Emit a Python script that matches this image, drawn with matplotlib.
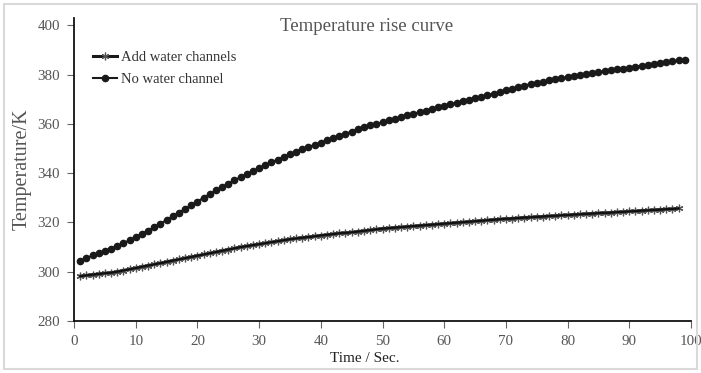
import matplotlib.pyplot as plt
from matplotlib.patches import Rectangle

plt.rcParams['font.family'] = ['Liberation Serif', 'DejaVu Serif']

# No water channel, t = 1..99 s
time_no_water = list(range(1, 100))
temp_no_water = [
    304.4, 305.5, 306.6, 307.6, 308.5, 309.4, 310.4, 311.5, 312.8, 314.1,
    315.4, 316.7, 318.1, 319.5, 321.0, 322.5, 324.0, 325.5, 327.0, 328.5,
    330.0, 331.5, 333.0, 334.4, 335.8, 337.1, 338.4, 339.6, 340.8, 342.0,
    343.2, 344.4, 345.5, 346.6, 347.7, 348.8, 349.7, 350.6, 351.5, 352.4,
    353.3, 354.2, 355.1, 356.0, 356.9, 357.8, 358.6, 359.4, 360.0, 360.7,
    361.4, 362.1, 362.8, 363.5, 364.1, 364.8, 365.4, 366.1, 366.7, 367.3,
    368.0, 368.6, 369.2, 369.9, 370.5, 371.1, 371.7, 372.3, 372.9, 373.6,
    374.3, 374.9, 375.6, 376.2, 376.7, 377.2, 377.7, 378.1, 378.5, 379.0,
    379.4, 379.8, 380.2, 380.6, 381.0, 381.4, 381.8, 382.2, 382.5, 382.9,
    383.3, 383.6, 384.0, 384.4, 384.7, 385.1, 385.4, 385.8, 386.1,
]

# Add water channels, t = 1..98 s
time_water = list(range(1, 99))
temp_water = [
    298.2, 298.5, 298.8, 299.1, 299.4, 299.6, 300.0, 300.5, 301.0, 301.5,
    302.0, 302.5, 303.0, 303.5, 304.0, 304.5, 305.0, 305.5, 306.0, 306.5,
    307.0, 307.5, 308.0, 308.5, 309.0, 309.5, 310.0, 310.4, 310.8, 311.2,
    311.6, 312.0, 312.4, 312.8, 313.2, 313.5, 313.8, 314.1, 314.4, 314.7,
    315.0, 315.3, 315.6, 315.8, 316.0, 316.3, 316.6, 316.9, 317.2, 317.5,
    317.7, 317.9, 318.1, 318.3, 318.5, 318.7, 318.9, 319.1, 319.3, 319.5,
    319.7, 319.9, 320.1, 320.3, 320.5, 320.7, 320.9, 321.1, 321.3, 321.5,
    321.6, 321.8, 322.0, 322.1, 322.3, 322.4, 322.6, 322.7, 322.9, 323.0,
    323.2, 323.3, 323.5, 323.6, 323.8, 323.9, 324.0, 324.2, 324.3, 324.5,
    324.6, 324.8, 324.9, 325.1, 325.2, 325.4, 325.5, 325.7,
]

x_ticks = list(range(0, 101, 10))
y_ticks = list(range(280, 401, 20))

fig = plt.figure(figsize=(7.01, 3.73), dpi=100)
ax = fig.add_axes([0.1056, 0.1394, 0.8801, 0.8123])

# asterisk markers first, dark line on top so the core stays black
ax.plot(time_water, temp_water, color='#1a1a1a', lw=2.2,
        marker=(6, 2, 0), ms=5.5, mec='#555555', mew=0.9,
        label='Add water channels', zorder=2)
ax.plot(time_water, temp_water, color='#111111', lw=1.6, zorder=2.1)
ax.plot(time_no_water, temp_no_water, color='#1a1a1a', lw=1.5,
        marker='o', ms=4.5, mfc='#1a1a1a', mec='#1a1a1a',
        label='No water channel', zorder=3)

ax.set_xlim(0, 100)
ax.set_ylim(280, 403)
ax.set_xticks(x_ticks)
ax.set_yticks(y_ticks)

for s in ['top', 'right']:
    ax.spines[s].set_visible(False)
for s in ['left', 'bottom']:
    ax.spines[s].set_linewidth(1.3)
    ax.spines[s].set_color('#111111')

ax.tick_params(direction='out', length=5, width=0.8, color='#666666',
               labelcolor='#555555', labelsize=10.8, pad=5)

ax.set_ylabel('Temperature/K', fontsize=14.5, color='#555555', labelpad=4)

fig.text(365 / 701, (373 - 358) / 373, 'Time / Sec.', ha='center',
         va='center', fontsize=11, color='#222222')
fig.text(367 / 701, 0.930, 'Temperature rise curve', ha='center',
         va='center', fontsize=13.5, color='#555555')

ax.legend(loc='upper left', bbox_to_anchor=(0.01, 0.935), frameon=False,
          fontsize=10.5, handlelength=1.6, handletextpad=0.3,
          labelspacing=0.6, labelcolor='#333333')

fig.patches.append(Rectangle((4 / 701, 4 / 373), 693 / 701, 365 / 373,
                             transform=fig.transFigure, fill=False,
                             edgecolor='#d9d9d9', lw=1.5))

fig.savefig('out.png', dpi=100)
